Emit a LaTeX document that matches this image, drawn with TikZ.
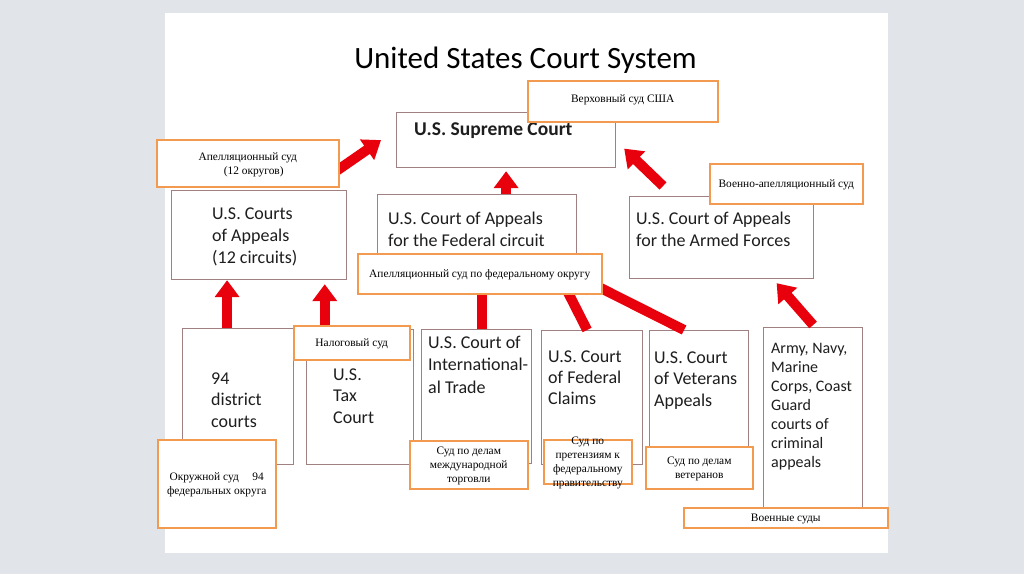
\documentclass[tikz,border=0pt]{standalone}
\usepackage{fontspec}
\setmainfont{Liberation Serif}
\newfontfamily\calfont{Carlito}
\usetikzlibrary{arrows.meta}
\definecolor{bg}{RGB}{225,229,233}
\definecolor{boxline}{RGB}{160,128,128}
\definecolor{orng}{RGB}{242,155,80}
\definecolor{arrred}{RGB}{232,0,12}
\definecolor{ink}{RGB}{30,30,30}
\pgfdeclarelayer{boxlayer}
\pgfdeclarelayer{arrowlayer}
\pgfsetlayers{boxlayer,arrowlayer,main}
\begin{document}
\begin{tikzpicture}[x=1pt,y=-1pt,
  gbox/.style={draw=boxline, line width=1.2pt, fill=white, rectangle, inner sep=0pt, anchor=north west},
  obox/.style={draw=orng, line width=1.5pt, fill=white, rectangle, inner sep=0pt, anchor=north west},
  etxt/.style={anchor=north west, inner sep=0pt, align=left, text=ink, font=\calfont\fontsize{18}{22}\selectfont},
  rtxt/.style={inner sep=0pt, align=center, text=black, font=\fontsize{11.4}{14}\selectfont},
  redarr/.style={draw=arrred, line width=10pt, -{Triangle[width=24pt,length=17pt]}},
]
\begin{pgfonlayer}{boxlayer}
\useasboundingbox (0,0) rectangle (1024,574);
\fill[bg] (0,0) rectangle (1024,574);
\fill[white] (165,13) rectangle (888,553);

% title
\node[anchor=base, inner sep=0pt, text=black, font=\calfont\fontsize{31}{37}\selectfont] (title) at (525.5,68) {United States Court System};

% gray boxes
\node[gbox, minimum width=219pt, minimum height=55pt] (sup) at (396,112) {};
\node[gbox, minimum width=175pt, minimum height=89pt] (apc) at (171,190) {};
\node[gbox, minimum width=199pt, minimum height=80pt] (fc) at (377,194) {};
\node[gbox, minimum width=184pt, minimum height=82pt] (af) at (629,196) {};
\node[gbox, minimum width=111pt, minimum height=136pt] (dc) at (182,328) {};
\node[gbox, minimum width=107pt, minimum height=135pt] (tx) at (306,329) {};
\node[gbox, minimum width=110pt, minimum height=134pt] (it) at (421,329) {};
\node[gbox, minimum width=101pt, minimum height=134pt] (cl) at (541,330) {};
\node[gbox, minimum width=99pt, minimum height=117pt] (vt) at (649,330) {};
\node[gbox, minimum width=99pt, minimum height=180pt] (ml) at (763,327) {};

% English texts
\node[etxt, font=\calfont\bfseries\fontsize{19.5}{22}\selectfont] (supT) at (414,120) {\strut U.S. Supreme Court};
\node[etxt] (apcT) at (212,203.6) {\strut U.S. Courts\\of Appeals\\(12 circuits)};
\node[etxt] (fcT) at (388,208.6) {\strut U.S. Court of Appeals\\for the Federal circuit};
\node[etxt] (afT) at (636,208.6) {\strut U.S. Court of Appeals\\for the Armed Forces};
\node[etxt, font=\calfont\fontsize{18}{21.5}\selectfont] (dcT) at (211,368.95) {\strut 94\\district\\courts};
\node[etxt, font=\calfont\fontsize{18}{21.5}\selectfont] (txT) at (333,364.95) {\strut U.S.\\Tax\\Court};
\node[etxt, font=\calfont\fontsize{18}{22.5}\selectfont] (itT) at (428,332.25) {\strut U.S. Court of\\International-\\al Trade};
\node[etxt, font=\calfont\fontsize{18}{21}\selectfont] (clT) at (548,347.3) {\strut U.S. Court\\of Federal\\Claims};
\node[etxt, font=\calfont\fontsize{18}{21.5}\selectfont] (vtT) at (654,347.95) {\strut U.S. Court\\of Veterans\\Appeals};
\node[etxt, font=\calfont\fontsize{16}{19}\selectfont] (mlT) at (771,339.7) {\strut Army, Navy,\\Marine\\Corps, Coast\\Guard\\courts of\\criminal\\appeals};
\end{pgfonlayer}

% orange label boxes
\node[obox, minimum width=190pt, minimum height=41pt] (ver) at (527,80) {};
\node[obox, minimum width=182pt, minimum height=47pt] (ap12) at (156,139) {};
\node[obox, minimum width=244pt, minimum height=40pt] (fco) at (357,253) {};
\node[obox, minimum width=153pt, minimum height=40pt] (vap) at (709,163) {};
\node[obox, minimum width=118pt, minimum height=88pt] (okr) at (157,439) {};
\node[obox, minimum width=116pt, minimum height=34pt] (nal) at (293,325) {};
\node[obox, minimum width=118pt, minimum height=48pt] (mt) at (409,440) {};
\node[obox, minimum width=88pt, minimum height=44pt] (pr) at (543,439) {};
\node[obox, minimum width=107pt, minimum height=42pt] (vet) at (645,446) {};
\node[obox, minimum width=204pt, minimum height=20pt] (voe) at (683,507) {};

% arrows (drawn beneath the label boxes)
\begin{pgfonlayer}{arrowlayer}
\draw[redarr] ([xshift=-10pt,yshift=-12.5pt]ap12.east) -- ([xshift=-15pt]sup.west);
\draw[redarr] (sup.south |- fc.north) -- ([yshift=-3pt]sup.south);
\draw[redarr] ([xshift=34pt,yshift=10pt]af.north west) -- ([xshift=8pt,yshift=-8.5pt]sup.east);
\draw[redarr] ([xshift=-11pt]dc.north) -- ([xshift=-11pt]dc.north |- apc.south);
\draw[redarr] ([xshift=-27pt,yshift=-4pt]nal.north) -- ([xshift=-27pt,yshift=-4pt]nal.north |- apc.south);
\draw[redarr] ([xshift=5pt]it.north) -- ([xshift=5pt]it.north |- fc.south);
\draw[redarr] ([xshift=-5pt]cl.north) -- ([xshift=-20pt,yshift=4pt]fc.south east);
\draw[redarr] ([xshift=-15pt]vt.north) -- ([yshift=-1pt]fc.south east);
\draw[redarr] ([yshift=2pt]ml.north) -- ([xshift=55pt,yshift=-4pt]af.south);
\end{pgfonlayer}

% Russian texts
\node[rtxt] (verT) at ([yshift=1pt]ver.center) {Верховный суд США};
\node[rtxt] (ap12T) at ([yshift=-1.5pt]ap12.center) {Апелляционный суд\\\hspace*{12pt}(12 округов)};
\node[rtxt] (fcoT) at ([yshift=-1pt]fco.center) {Апелляционный суд по федеральному округу};
\node[rtxt] (vapT) at ([yshift=-1pt]vap.center) {Военно-апелляционный суд};
\node[rtxt] (okrT) at ([yshift=-1.5pt]okr.center) {Окружной суд\hspace{1.2em}94\\федеральных округа};
\node[rtxt] (nalT) at ([yshift=-1pt]nal.center) {Налоговый суд};
\node[rtxt] (mtT) at ([yshift=-1pt]mt.center) {Суд по делам\\международной\\торговли};
\node[rtxt] (prT) at ([yshift=-1pt]pr.center) {Суд по\\претензиям к\\федеральному\\правительству};
\node[rtxt] (vetT) at ([yshift=-1.5pt]vet.center) {Суд по делам\\ветеранов};
\node[rtxt] (voeT) at ([yshift=-1pt]voe.center) {Военные суды};
\end{tikzpicture}
\end{document}
